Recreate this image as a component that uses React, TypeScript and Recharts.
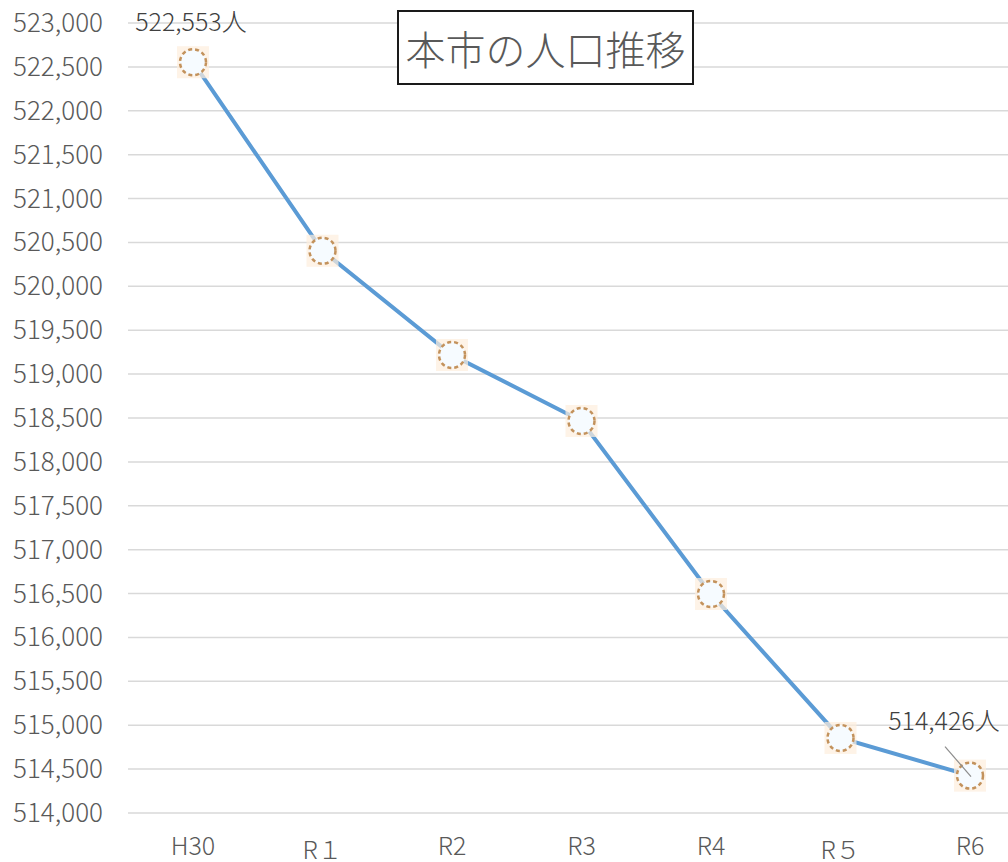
import { LineChart, Line, XAxis, YAxis, CartesianGrid, LabelList } from "recharts"

const years = ["H30", "R１", "R2", "R3", "R4", "R５", "R6"]
const population = [522553, 520405, 519218, 518466, 516495, 514855, 514426]
const yTicks = [514000, 514500, 515000, 515500, 516000, 516500, 517000, 517500, 518000, 518500, 519000, 519500, 520000, 520500, 521000, 521500, 522000, 522500, 523000]
const labelled = [0, 6]

const data = years.map((year, i) => ({ year, population: population[i] }))

const FONT = '"Noto Sans CJK JP", "Noto Sans", sans-serif'
const GRAY = "#595959"

const fmt = (v: number) => v.toLocaleString("en-US")

function XTick(props: any) {
  const { x, payload } = props
  // full-width labels sit a bit lower in the original
  const wide = /[０-９]/.test(payload.value)
  return (
    <text x={x} y={wide ? 859 : 855} textAnchor="middle" fill={GRAY} fontSize={25} fontFamily={FONT} fontWeight={300}>
      {payload.value}
    </text>
  )
}

function YTick(props: any) {
  const { y, payload } = props
  return (
    <text x={103} y={y + 9} textAnchor="end" fill={GRAY} fontSize={26} fontFamily={FONT} fontWeight={300}>
      {fmt(payload.value)}
    </text>
  )
}

function Dot(props: any) {
  const { cx, cy, index } = props
  return (
    <g key={`dot-${index}`}>
      <rect x={cx - 16} y={cy - 16} width={32} height={32} fill="#fdeedd" opacity={0.7} />
      <circle cx={cx} cy={cy} r={13} fill="#f6fbff" stroke="#c3925c" strokeWidth={2.5} strokeDasharray="4 3" />
    </g>
  )
}

function PointLabel(props: any) {
  const { x, y, value, index } = props
  if (!labelled.includes(index)) return null
  const text = `${fmt(value)}人`
  if (index === 0) {
    return (
      <text x={x - 2} y={y - 31} textAnchor="middle" fill="#404040" fontSize={25} fontFamily={FONT} fontWeight={300}>
        {text}
      </text>
    )
  }
  return (
    <g>
      <line x1={x - 25} y1={y - 29} x2={x + 1} y2={y + 1} stroke="#8c8c8c" strokeWidth={1.2} />
      <text x={x - 26} y={y - 46} textAnchor="middle" fill="#404040" fontSize={25} fontFamily={FONT} fontWeight={300}>
        {text}
      </text>
    </g>
  )
}

export default function App() {
  return (
    <div style={{ position: "fixed", left: 0, top: 0, width: 1008, height: 862, overflow: "hidden", background: "#fff" }}>
      <LineChart width={1008} height={862} data={data} margin={{ top: 23, right: 0, bottom: 0, left: 0 }}>
        <CartesianGrid vertical={false} stroke="#d9d9d9" strokeWidth={1.5} />
        <XAxis
          dataKey="year"
          axisLine={false}
          tickLine={false}
          padding={{ left: 65, right: 38 }}
          tick={<XTick />}
          height={49}
          interval={0}
        />
        <YAxis
          domain={[514000, 523000]}
          ticks={yTicks}
          axisLine={false}
          tickLine={false}
          width={128}
          tick={<YTick />}
          interval={0}
        />
        <Line
          dataKey="population"
          stroke="#5b9bd5"
          strokeWidth={4}
          dot={<Dot />}
          activeDot={false}
          isAnimationActive={false}
        >
          <LabelList dataKey="population" content={<PointLabel />} />
        </Line>
      </LineChart>
      <div
        style={{
          position: "absolute",
          left: 397,
          top: 10,
          width: 293,
          height: 71,
          border: "2px solid #1a1a1a",
          display: "flex",
          alignItems: "center",
          justifyContent: "center",
          fontFamily: FONT,
          fontWeight: 300,
          fontSize: 40,
          color: GRAY,
          background: "#fff",
        }}
      >
        本市の人口推移
      </div>
    </div>
  )
}
